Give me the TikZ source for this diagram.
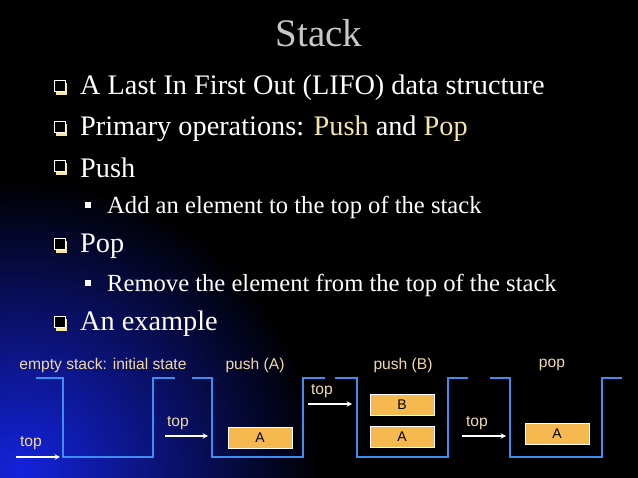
\documentclass[tikz,border=0pt]{standalone}
\usepackage{fontspec}
\setmainfont{Liberation Serif}
\newfontfamily\arialf{Liberation Sans}
\definecolor{stk}{HTML}{3D8EF0}
\definecolor{lbl}{HTML}{F0D9A8}
\definecolor{boxf}{HTML}{F6B94F}
\definecolor{hil}{HTML}{F2E6A8}
\definecolor{ttl}{HTML}{C8C8C8}
\tikzset{
  stkline/.style={draw=stk,line width=1.6pt},
  elem/.style={draw=white,fill=boxf,line width=1pt,minimum width=64pt,minimum height=21pt,inner sep=0pt,font=\arialf\fontsize{14}{16}\selectfont,text=black},
  oplbl/.style={text=lbl,font=\arialf\fontsize{15.6}{18}\selectfont,inner sep=0pt},
  toplbl/.style={text=lbl,font=\arialf\fontsize{15.6}{18}\selectfont,inner sep=0pt},
  toparr/.style={draw=white,line width=1.4pt,-stealth},
  mainbul/.style={text=white,font=\fontsize{28.3}{32}\selectfont,anchor=west,inner sep=0pt},
  subbul/.style={text=white,font=\fontsize{24.6}{28}\selectfont,anchor=west,inner sep=0pt},
}
\newcommand{\qbox}[2]{%
  \fill[hil] (#1+2,#2-5) rectangle (#1+13,#2+7);
  \filldraw[fill=black,draw=white,line width=1pt] (#1,#2-7) rectangle (#1+11,#2+4);}
\newcommand{\subsq}[2]{\fill[white] (#1-3,#2-3) rectangle (#1+3,#2+3);}
\begin{document}
\begin{tikzpicture}[x=1pt,y=-1pt]
\useasboundingbox (0,0) rectangle (638,478);
\fill[black] (0,0) rectangle (638,478);
\shade[inner color={rgb,255:red,20;green,35;blue,220},outer color=black] (-280,180) rectangle (320,760);
% title
\node[text=ttl,font=\fontsize{39}{44}\selectfont,inner sep=0pt] (title) at (319,33) {Stack};
% bullets
\qbox{54}{88}
\node[mainbul] (b1) at (80,88) {A Last In First Out (LIFO) data structure};
\qbox{54}{129}
\node[mainbul] (b2) at (80,129) {Primary operations: \textcolor{hil}{Push} and \textcolor{hil}{Pop}};
\qbox{54}{168}
\node[mainbul] (b3) at (80,168) {Push};
\subsq{88}{205}
\node[subbul] (s1) at (107,207) {Add an element to the top of the stack};
\qbox{54}{246}
\node[mainbul] (b4) at (80,246) {Pop};
\subsq{88}{283}
\node[subbul] (s2) at (107,285) {Remove the element from the top of the stack};
\qbox{54}{324}
\node[mainbul] (b5) at (80,324) {An example};
% stacks
\draw[stkline] (36,378) -- (63,378) -- (63,457) -- (153,457) -- (153,378) -- (175,378);
\draw[stkline] (192,378) -- (212,378) -- (212,457) -- (303,457) -- (303,378) -- (325,378);
\draw[stkline] (335,378) -- (357,378) -- (357,457) -- (448,457) -- (448,378) -- (468,378);
\draw[stkline] (490,378) -- (510,378) -- (510,457) -- (602,457) -- (602,378) -- (622,378);
% labels
\node[oplbl] (l1) at (103,365) {empty stack: initial state};
\node[oplbl] (l2) at (255,365) {push (A)};
\node[oplbl] (l3) at (403,365) {push (B)};
\node[oplbl] (l4) at (552,365) {pop};
% elements
\node[elem] (a2) at (260,438) {A};
\node[elem] (b3e) at (402,405) {B};
\node[elem] (a3) at (402,437) {A};
\node[elem] (a4) at (557,434) {A};
% top pointers
\node[toplbl] (t1) at (31,443) {top};
\coordinate (t1s) at (16,457); \coordinate (t1e) at (60,457);
\draw[toparr] (t1s) -- (t1e);
\node[toplbl] (t2) at (178,423) {top};
\coordinate (t2s) at (165,436); \coordinate (t2e) at (208,436);
\draw[toparr] (t2s) -- (t2e);
\node[toplbl] (t3) at (322,391) {top};
\coordinate (t3s) at (308,404); \coordinate (t3e) at (352,404);
\draw[toparr] (t3s) -- (t3e);
\node[toplbl] (t4) at (477,423) {top};
\coordinate (t4s) at (462,436); \coordinate (t4e) at (506,436);
\draw[toparr] (t4s) -- (t4e);
\end{tikzpicture}
\end{document}
